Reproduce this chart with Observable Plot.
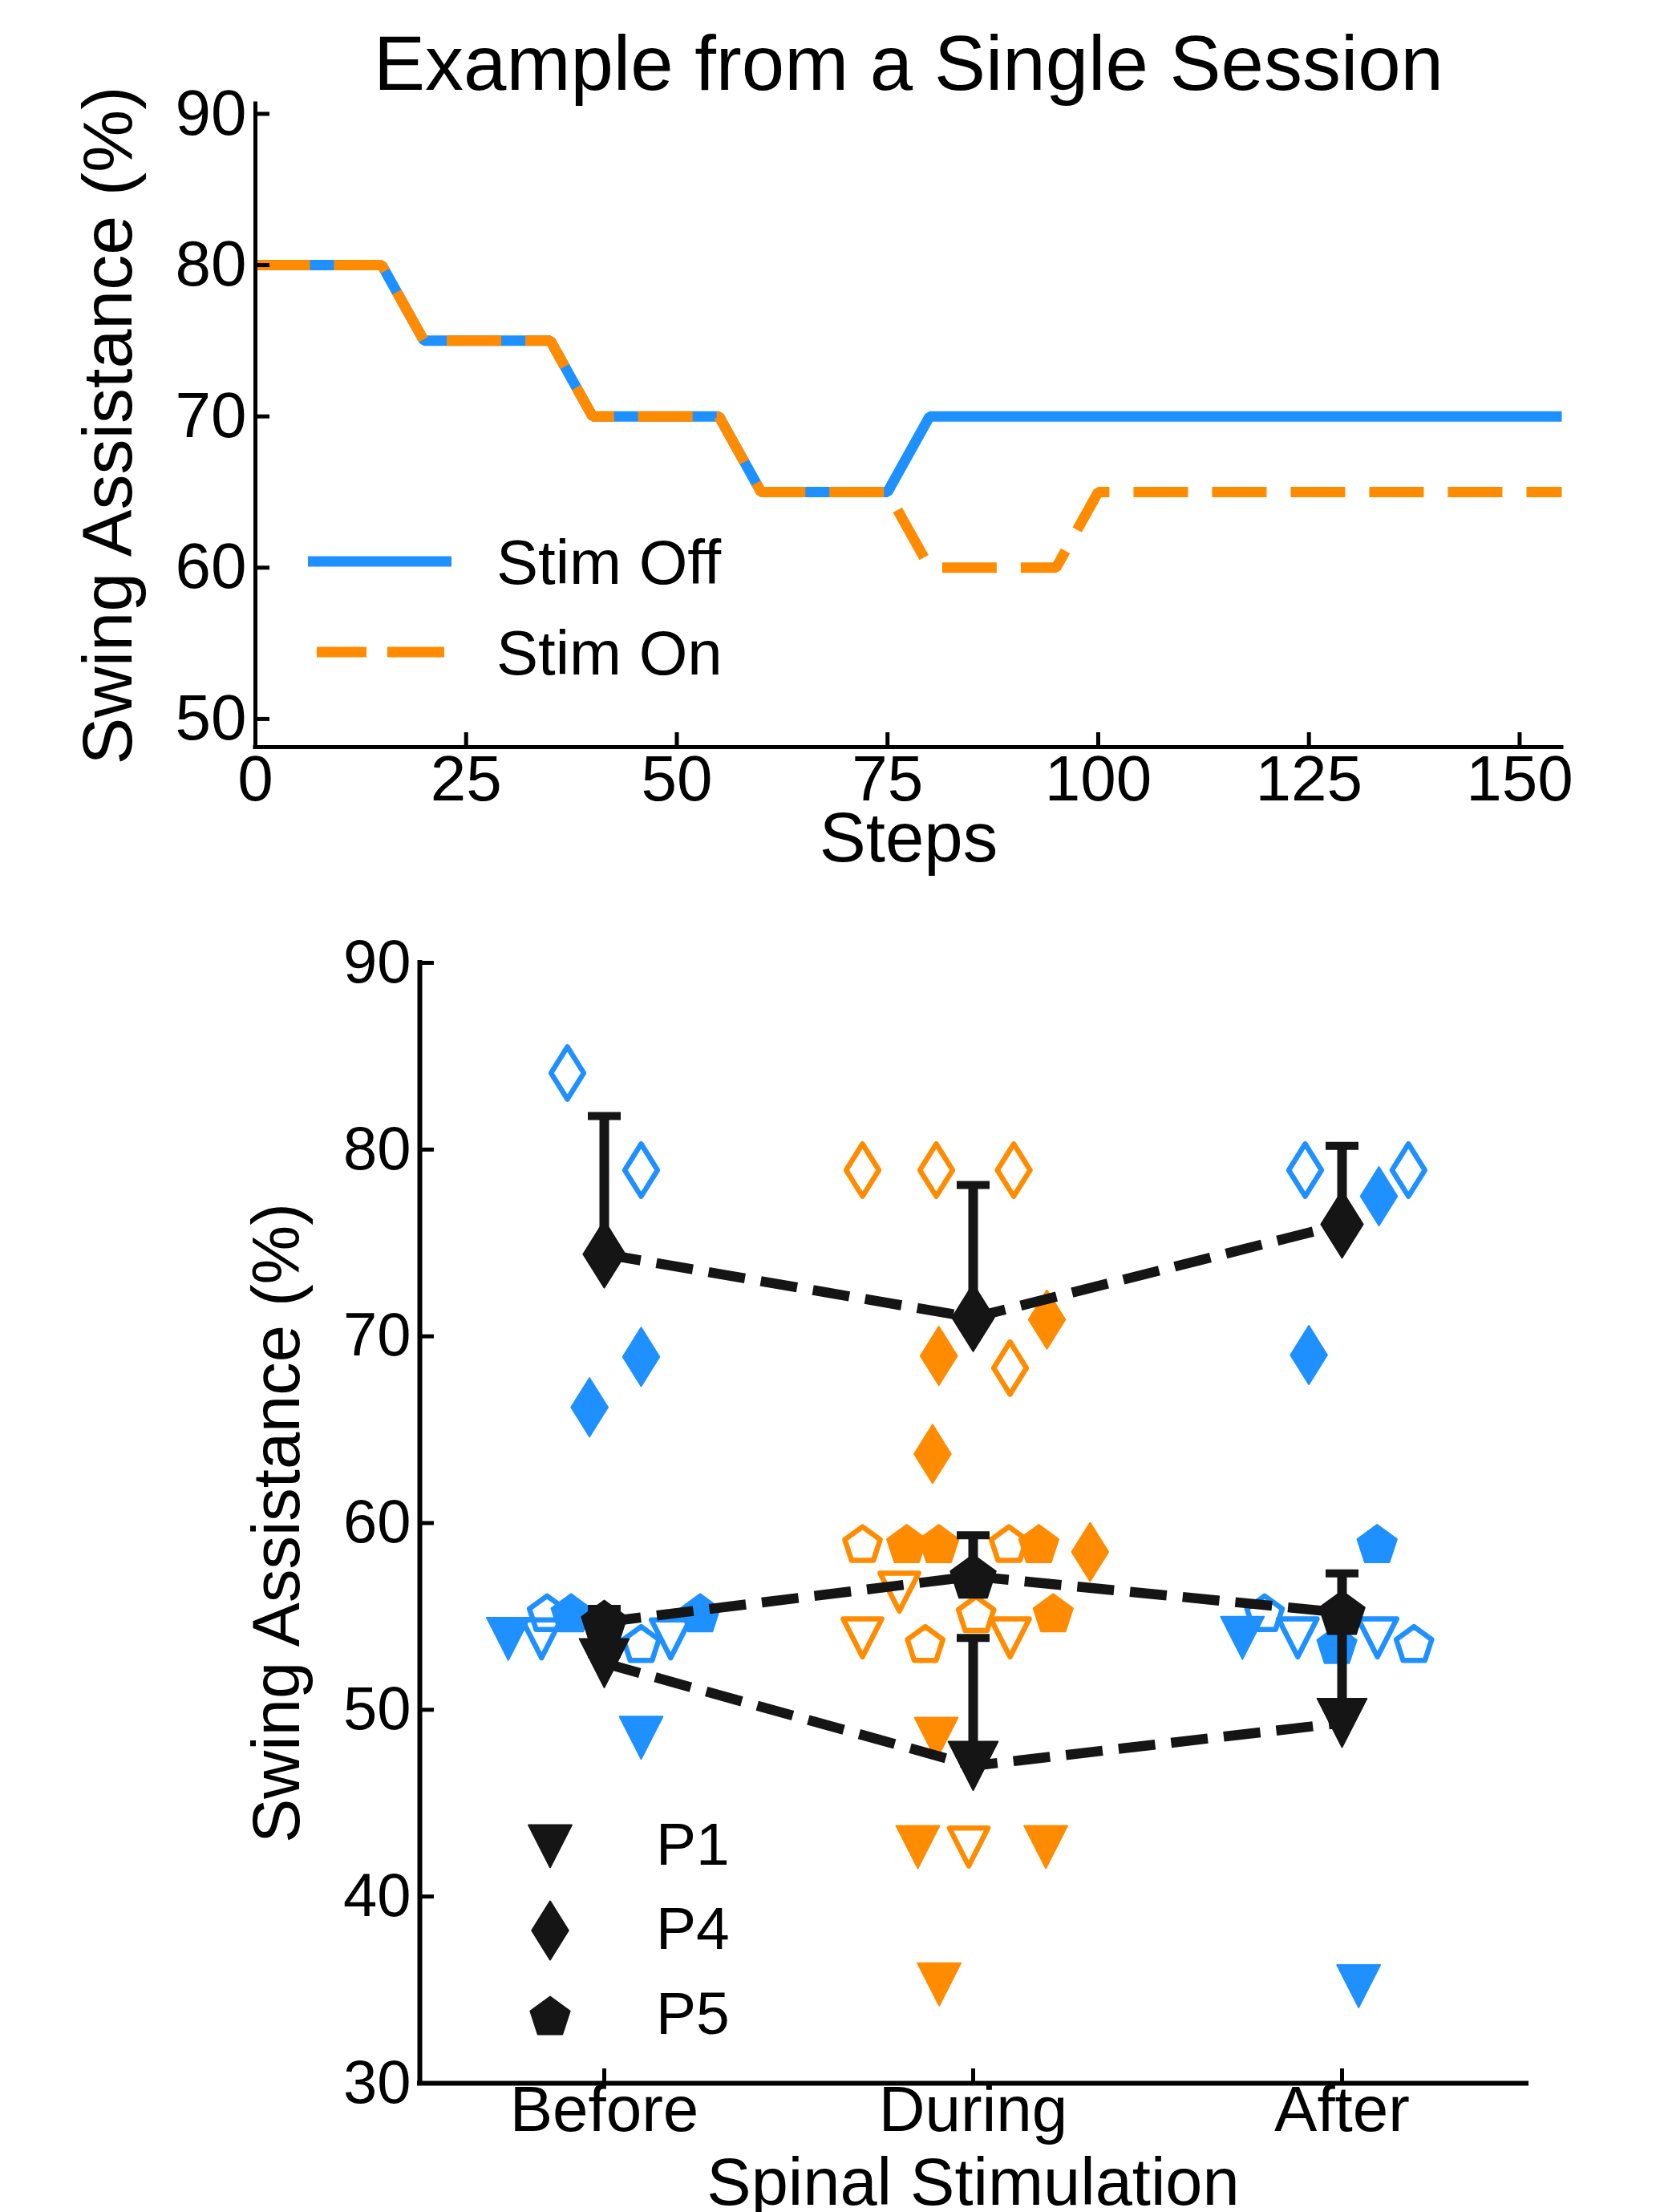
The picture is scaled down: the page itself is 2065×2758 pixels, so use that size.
<!DOCTYPE html>
<html><head><meta charset="utf-8">
<script src="https://cdn.jsdelivr.net/npm/d3@7"></script>
<script src="https://cdn.jsdelivr.net/npm/@observablehq/plot@0.6"></script>
<style>
html,body{margin:0;padding:0;background:#fff;}
#wrap{position:relative;width:2065px;height:2758px;overflow:hidden;font-family:"Liberation Sans",Arial,sans-serif;background:#fff;}
#wrap > svg{display:block;}
.overlay{position:absolute;left:0;top:0;pointer-events:none;}
</style></head><body><div id="wrap"></div>
<script>
// ---------------- Top panel data ----------------
const stepsOff  = [0, 15, 20, 35, 40, 55, 60, 75, 80, 155];
const assistOff = [80, 80, 75, 75, 70, 70, 65, 65, 70, 70];
const stepsOn   = [0, 15, 20, 35, 40, 55, 60, 75, 80, 95, 100, 155];
const assistOn  = [80, 80, 75, 75, 70, 70, 65, 65, 60, 60, 65, 65];
const xTicksTop = [0, 25, 50, 75, 100, 125, 150];
const yTicksTop = [50, 60, 70, 80, 90];
const seriesNames = ["Stim Off", "Stim On"];

// ---------------- Bottom panel data ----------------
const phases = ["Before", "During", "After"];
const yTicksBottom = [30, 40, 50, 60, 70, 80, 90];
const participants = ["P1", "P4", "P5"];
// individual sessions
const ptPhase  = [0,0,0,0,0,0,0,0,0,0,0,0, 1,1,1,1,1,1,1,1,1,1,1,1,1,1,1,1,1,1,1,1,1,1,1,1, 2,2,2,2,2,2,2,2,2,2,2,2];
const ptSubj   = ["P4","P4","P4","P4","P1","P1","P1","P1","P5","P5","P5","P5",
                  "P4","P4","P4","P4","P4","P4","P4","P4","P5","P5","P5","P5","P5","P5","P5","P5","P1","P1","P1","P1","P1","P1","P1","P1",
                  "P4","P4","P4","P4","P5","P5","P5","P5","P1","P1","P1","P1"];
const ptFilled = [0,0,1,1,1,1,0,0,0,0,1,1,
                  0,0,0,0,1,1,1,1,0,0,0,0,1,1,1,1,0,0,0,0,1,1,1,1,
                  0,0,1,1,1,1,0,0,1,1,0,0];
const ptJitter = [-0.10,0.10,0.10,-0.04,-0.26,0.10,-0.17,0.18,-0.155,0.10,-0.09,0.26,
                  -0.30,-0.10,0.11,0.10,-0.093,0.20,-0.11,0.317,-0.30,0.097,0.008,-0.13,-0.18,-0.093,0.178,0.217,-0.20,-0.30,0.10,-0.012,-0.10,-0.15,0.197,-0.092,
                  -0.10,0.18,0.10,-0.09,0.095,-0.014,-0.21,0.195,-0.27,0.045,-0.12,0.096];
const ptValue  = [84.1,78.9,68.9,66.2,53.8,48.5,53.8,53.8,55.2,53.55,55.2,55.2,
                  78.9,78.9,78.9,68.3,68.95,70.9,63.7,58.45,58.9,58.9,55.15,53.55,58.9,58.9,58.9,55.2,56.3,53.85,53.85,42.65,48.45,42.65,42.65,35.3,
                  78.9,78.9,77.5,69.0,58.9,53.5,55.2,53.55,53.85,35.2,53.85,53.85];
// group means with upper error bar end
const meanPhase = [0,0,0, 1,1,1, 2,2,2];
const meanSubj  = ["P1","P4","P5", "P1","P4","P5", "P1","P4","P5"];
const meanValue = [52.5,74.4,54.7, 47.0,71.0,57.15, 49.3,76.0,55.2];
const meanUpper = [53.0,81.8,55.4, 53.85,78.1,59.35, 54.8,80.2,57.3];

// ---------------- Styles ----------------
const BLUE = "#1E90FF", ORANGE = "#FF8C00", BLACK = "#151515";
const FONT = "Liberation Sans, Arial, Helvetica, sans-serif";

// custom marker shapes (size = pi r^2)
const rad = s => Math.sqrt(s / Math.PI);
const symTri = {draw(c, s){ const r = rad(s), hw = 1.12*r, hh = 1.1*r;
  c.moveTo(-hw,-hh); c.lineTo(hw,-hh); c.lineTo(0,hh); c.closePath(); }};
const symDia = {draw(c, s){ const r = rad(s), hw = 0.95*r, hh = 1.52*r;
  c.moveTo(0,-hh); c.lineTo(hw,0); c.lineTo(0,hh); c.lineTo(-hw,0); c.closePath(); }};
const symPen = {draw(c, s){ const r = rad(s), R = 1.08*r, off = 0.0955*R;
  for (let i = 0; i < 5; i++){ const a = -Math.PI/2 + i*2*Math.PI/5;
    const x = R*Math.cos(a), y = R*Math.sin(a) + off; i ? c.lineTo(x,y) : c.moveTo(x,y);} c.closePath(); }};
const symCap = {draw(c, s){ const r = rad(s); c.moveTo(-r,0); c.lineTo(r,0); }};
const symBy = {P1: symTri, P4: symDia, P5: symPen};

const wrap = document.getElementById("wrap");

// ---------------- Top chart ----------------
const offData = stepsOff.map((s,i) => ({step: s, value: assistOff[i]}));
const onData  = stepsOn.map((s,i) => ({step: s, value: assistOn[i]}));

const topChart = Plot.plot({
  width: 2065, height: 1100,
  marginLeft: 318, marginRight: 118, marginTop: 129, marginBottom: 169,
  x: {domain: [0, 155]},
  y: {domain: [48.14, 90.66]},
  style: {fontFamily: FONT, fontSize: "80px", color: "black", background: "white"},
  marks: [
    Plot.line(offData, {x: "step", y: "value", stroke: BLUE, strokeWidth: 13, strokeLinecap: "butt", strokeLinejoin: "miter"}),
    Plot.line(onData, {x: "step", y: "value", stroke: ORANGE, strokeWidth: 13, strokeDasharray: "68,30", strokeLinecap: "butt", strokeLinejoin: "miter"}),
    Plot.ruleX([0], {stroke: "black", strokeWidth: 5, strokeLinecap: "square"}),
    Plot.ruleY([48.14], {stroke: "black", strokeWidth: 5, strokeLinecap: "square"}),
    Plot.axisX({ticks: xTicksTop, tickSize: -18, tickPadding: 28, strokeWidth: 5, fontSize: 80, label: null, tickFormat: d => String(d)}),
    Plot.axisY({ticks: yTicksTop, tickSize: -18, tickPadding: 29, strokeWidth: 5, fontSize: 80, label: null, tickFormat: d => String(d)}),
    Plot.text([0], {text: () => "Example from a Single Session", frameAnchor: "top", textAnchor: "middle", dy: -18, lineAnchor: "bottom", fontSize: 96}),
    Plot.text([0], {text: () => "Steps", frameAnchor: "bottom", textAnchor: "middle", dy: 142, lineAnchor: "bottom", fontSize: 87}),
    Plot.text([0], {text: () => "Swing Assistance (%)", frameAnchor: "left", textAnchor: "middle", rotate: -90, dx: -155, lineAnchor: "bottom", fontSize: 88})
  ]
});
wrap.appendChild(topChart);

// ---------------- Bottom chart ----------------
const pts = ptValue.map((v,i) => ({x: ptPhase[i] + ptJitter[i], y: v, subj: ptSubj[i], filled: ptFilled[i],
  color: ptPhase[i] === 1 ? ORANGE : BLUE}));
const means = meanValue.map((v,i) => ({phase: meanPhase[i], subj: meanSubj[i], value: v, upper: meanUpper[i]}));

const pointMarks = [];
for (const filled of [0, 1]) {
  for (const s of participants) {
    const sub = pts.filter(d => d.filled === filled && d.subj === s);
    pointMarks.push(Plot.dot(sub, filled
      ? {x: "x", y: "y", symbol: symBy[s], r: 24, fill: "color", stroke: "color", strokeWidth: 2, strokeLinejoin: "round"}
      : {x: "x", y: "y", symbol: symBy[s], r: 21.5, fill: "none", stroke: "color", strokeWidth: 6.5, strokeLinejoin: "round"}));
  }
}
const meanMarks = participants.map(s => Plot.dot(means.filter(d => d.subj === s),
  {x: "phase", y: "value", symbol: symBy[s], r: 27.5, fill: BLACK, stroke: BLACK, strokeWidth: 2, strokeLinejoin: "round"}));

const bottomChart = Plot.plot({
  width: 2065, height: 1658,
  marginLeft: 523, marginRight: 162, marginTop: 100, marginBottom: 161,
  x: {domain: [-0.5, 2.5]},
  y: {domain: [30, 90]},
  color: {type: "identity"},
  style: {fontFamily: FONT, fontSize: "78px", color: "black", background: "white"},
  marks: [
    ...pointMarks,
    Plot.line(means, {x: "phase", y: "value", z: "subj", stroke: BLACK, strokeWidth: 12.5, strokeDasharray: "46,20", strokeLinecap: "butt"}),
    Plot.ruleX(means, {x: "phase", y1: "value", y2: "upper", stroke: BLACK, strokeWidth: 12}),
    Plot.dot(means, {x: "phase", y: "upper", symbol: symCap, r: 20.5, fill: "none", stroke: BLACK, strokeWidth: 10}),
    ...meanMarks,
    Plot.ruleX([-0.5], {stroke: "black", strokeWidth: 6, strokeLinecap: "square"}),
    Plot.ruleY([30], {stroke: "black", strokeWidth: 6, strokeLinecap: "square"}),
    Plot.axisX({ticks: [0,1,2], tickFormat: d => phases[d], tickSize: -18, tickPadding: 21, strokeWidth: 5, fontSize: 80, label: null}),
    Plot.axisY({ticks: yTicksBottom, tickSize: -18, tickPadding: 29, strokeWidth: 5, fontSize: 76, label: null, tickFormat: d => String(d)}),
    Plot.text([0], {text: () => "Spinal Stimulation", frameAnchor: "bottom", textAnchor: "middle", dy: 151, lineAnchor: "bottom", fontSize: 83}),
    Plot.text([0], {text: () => "Swing Assistance (%)", frameAnchor: "left", textAnchor: "middle", rotate: -90, dx: -151, lineAnchor: "bottom", fontSize: 83})
  ]
});
wrap.appendChild(bottomChart);

// ---------------- Legends (overlay) ----------------
const ov = d3.select(wrap).append("svg").attr("class", "overlay")
  .attr("width", 2065).attr("height", 2758).style("font-family", FONT);
// top legend
const topLeg = [{name: seriesNames[0], color: BLUE, dash: null, x1: 384, x2: 563, y: 700},
                {name: seriesNames[1], color: ORANGE, dash: "62,26,71,200", x1: 395, x2: 554, y: 813}];
for (const l of topLeg) {
  ov.append("line").attr("x1", l.x1).attr("x2", l.x2).attr("y1", l.y).attr("y2", l.y)
    .attr("stroke", l.color).attr("stroke-width", 13).attr("stroke-dasharray", l.dash);
  ov.append("text").attr("x", 619).attr("y", l.y + 28).attr("font-size", 78).attr("fill", "black").text(l.name);
}
// bottom legend
const botLegY = [2302, 2407, 2513];
participants.forEach((s, i) => {
  const p = d3.path(); symBy[s].draw(p, Math.PI * 24 * 24);
  ov.append("path").attr("d", p.toString()).attr("transform", `translate(686,${botLegY[i]})`)
    .attr("fill", BLACK).attr("stroke", BLACK).attr("stroke-width", 2).attr("stroke-linejoin", "round");
  ov.append("text").attr("x", 818).attr("y", botLegY[i] + 23).attr("font-size", 75).attr("fill", "black").text(s);
});
</script></body></html>
